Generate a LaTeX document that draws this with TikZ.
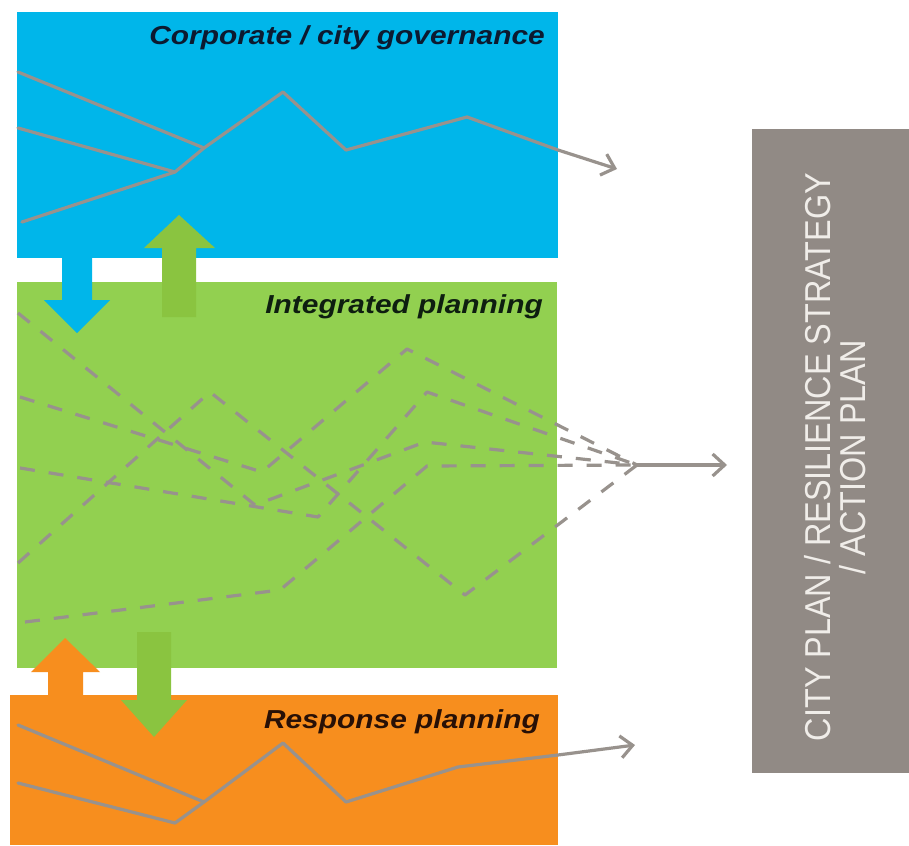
\documentclass[tikz,border=0pt]{standalone}
\usepackage{fontspec}
\setmainfont{Liberation Sans}
\newfontfamily\titlefont{Liberation Sans}[FakeStretch=1.15]
\newfontfamily\sidefont{Liberation Sans}[FakeStretch=0.9]
\usetikzlibrary{arrows.meta}
\definecolor{cblue}{RGB}{0,182,234}
\definecolor{cgreen}{RGB}{146,208,80}
\definecolor{cgarrow}{RGB}{138,196,64}
\definecolor{corange}{RGB}{247,142,30}
\definecolor{cgraybox}{RGB}{145,138,133}
\definecolor{cline}{RGB}{152,146,141}
\definecolor{csidetext}{RGB}{240,237,233}
\definecolor{ctblue}{RGB}{12,26,48}
\definecolor{ctgreen}{RGB}{14,30,16}
\definecolor{ctorange}{RGB}{40,16,6}
\tikzset{
  title/.style={font=\titlefont\bfseries\itshape\fontsize{26}{30}\selectfont, inner sep=0pt, anchor=base east},
  sline/.style={draw=cline, line width=3.2pt, line join=round, line cap=round},
  dline/.style={draw=cline, line width=3.2pt, dash pattern=on 15pt off 14pt, line join=round},
  tip/.style={-{Straight Barb[length=12pt,width=22pt]}},
}
\begin{document}
\begin{tikzpicture}[x=1pt,y=-1pt]
\useasboundingbox[fill=white] (0,0) rectangle (909,845);
% boxes
\fill[cblue] (17,12) rectangle (558,258);
\fill[cgreen] (17,282) rectangle (557,668);
\fill[corange] (10,695) rectangle (558,845);
\fill[cgraybox] (752,129) rectangle (909,773);
% block arrows
\fill[cblue] (62,250) -- (92,250) -- (92,300) -- (110,300) -- (77,333) -- (44,300) -- (62,300) -- cycle;
\fill[cgarrow] (162,317) -- (196,317) -- (196,248) -- (215,248) -- (179,215) -- (144,248) -- (162,248) -- cycle;
\fill[corange] (48,700) -- (83,700) -- (83,672) -- (100,672) -- (65,638) -- (31,672) -- (48,672) -- cycle;
\fill[cgarrow] (137,632) -- (171,632) -- (171,700) -- (187,700) -- (154,737) -- (121,700) -- (137,700) -- cycle;
% titles
\node[title, text=ctblue] (tgov) at (545,45) {Corporate / city governance};
\node[title, text=ctgreen] (tint) at (543,313) {Integrated planning};
\node[title, text=ctorange] (tresp) at (540,728) {Response planning};
\node[rotate=90, align=center, inner sep=0pt, text=csidetext,
      font=\sidefont\fontsize{36}{35}\selectfont] (side) at (835,457)
      {CITY PLAN / RESILIENCE STRATEGY\\/ ACTION PLAN};
% blue solid lines
\coordinate (bA0) at (18,72);
\coordinate (bB0) at (18,128);
\coordinate (bC0) at (22,222);
\coordinate (bJ0) at (175,172);
\coordinate (bJ1) at (204,148);
\coordinate (bP1) at (283,92);
\coordinate (bP2) at (346,150);
\coordinate (bP3) at (467,117);
\coordinate (bP4) at (558,150);
\coordinate (bEnd) at (617,169);
\draw[sline] (bA0) -- (bJ1);
\draw[sline] (bB0) -- (bJ0);
\draw[sline, tip] (bC0) -- (bJ0) -- (bJ1) -- (bP1) -- (bP2) -- (bP3) -- (bP4) -- (bEnd);
% orange solid lines
\coordinate (oA0) at (18,725);
\coordinate (oB0) at (18,783);
\coordinate (oJ0) at (175,823);
\coordinate (oJ1) at (204,802);
\coordinate (oP1) at (283,743);
\coordinate (oP2) at (346,802);
\coordinate (oP3) at (458,767);
\coordinate (oP4) at (558,755);
\coordinate (oEnd) at (635,745);
\draw[sline] (oA0) -- (oJ1);
\draw[sline, tip] (oB0) -- (oJ0) -- (oJ1) -- (oP1) -- (oP2) -- (oP3) -- (oP4) -- (oEnd);
% green dashed lines
\coordinate (conv) at (637,465);
\coordinate (gEnd) at (727,465);
\coordinate (d1a) at (18,313);  \coordinate (d1b) at (255,505); \coordinate (d1c) at (425,442);
\coordinate (d2a) at (20,397);  \coordinate (d2b) at (262,472); \coordinate (d2c) at (407,349);
\coordinate (d3a) at (20,468);  \coordinate (d3b) at (318,517); \coordinate (d3c) at (427,392);
\coordinate (d4a) at (18,563);  \coordinate (d4b) at (210,392); \coordinate (d4c) at (465,595);
\coordinate (d5a) at (25,622);  \coordinate (d5b) at (280,590); \coordinate (d5c) at (427,466);
\draw[dline] (d1a) -- (d1b) -- (d1c) -- (conv);
\draw[dline] (d2a) -- (d2b) -- (d2c) -- (conv);
\draw[dline] (d3a) -- (d3b) -- (d3c) -- (conv);
\draw[dline] (d4a) -- (d4b) -- (d4c) -- (conv);
\draw[dline] (d5a) -- (d5b) -- (d5c) -- (conv);
\draw[sline, line cap=butt, tip] (conv) -- (gEnd);
\end{tikzpicture}
\end{document}
